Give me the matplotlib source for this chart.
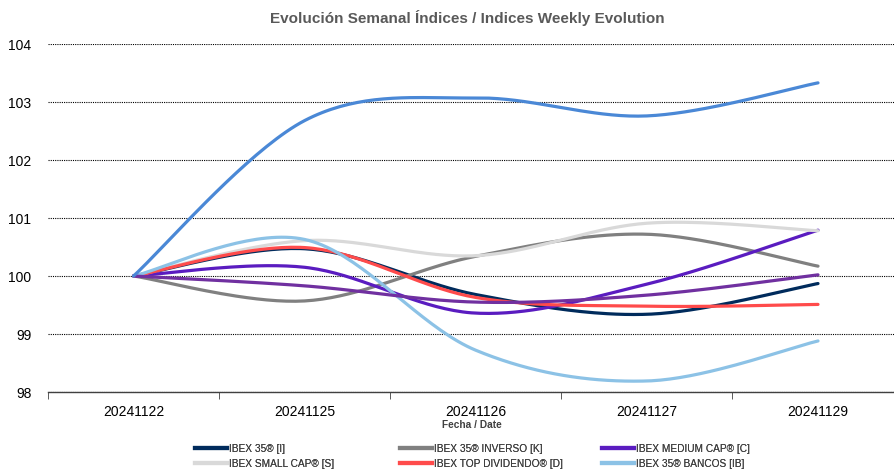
import numpy as np
import matplotlib
matplotlib.use("Agg")
import matplotlib.pyplot as plt
from matplotlib.lines import Line2D
from matplotlib import font_manager

plt.rcParams['font.family'] = ['Liberation Sans', 'DejaVu Sans']
_names = {f.name for f in font_manager.fontManager.ttflist}
if 'Liberation Sans Narrow' in _names:
    NARROW = ['Liberation Sans Narrow', 'DejaVu Sans']
    LEG_FS = 8
else:
    NARROW = ['Liberation Sans', 'DejaVu Sans']
    LEG_FS = 7.3

dates = ["20241122", "20241125", "20241126", "20241127", "20241129"]
ibex35 = [100, 100.47, 99.68, 99.34, 99.87]
inverso = [100, 99.57, 100.34, 100.72, 100.17]
medium_cap = [100, 100.15, 99.36, 99.86, 100.79]
small_cap = [100, 100.61, 100.35, 100.91, 100.78]
top_div = [100, 100.49, 99.63, 99.48, 99.51]
bancos = [100, 100.63, 98.72, 98.19, 98.88]
extra_blue = [100, 102.68, 103.07, 102.76, 103.33]
extra_purple = [100, 99.83, 99.55, 99.67, 100.02]

series = [
    ("IBEX 35® [I]", ibex35, "#002B5C", True),
    ("IBEX 35® INVERSO [K]", inverso, "#808080", True),
    ("IBEX MEDIUM CAP® [C]", medium_cap, "#5A1CC0", True),
    ("IBEX SMALL CAP® [S]", small_cap, "#D9D9D9", True),
    ("IBEX TOP DIVIDENDO® [D]", top_div, "#FF4B4B", True),
    ("IBEX 35® BANCOS [IB]", bancos, "#8CC2E6", True),
    ("_extra_purple", extra_purple, "#7030A0", False),
    ("_extra_blue", extra_blue, "#4A88D6", False),
]


def smooth(x, y, n=40):
    x = np.asarray(x, float)
    y = np.asarray(y, float)
    px = np.concatenate([[x[0]], x, [x[-1]]])
    py = np.concatenate([[y[0]], y, [y[-1]]])
    xs, ys = [], []
    t = np.linspace(0, 1, n)
    for i in range(1, len(px) - 2):
        p0x, p1x, p2x, p3x = px[i - 1], px[i], px[i + 1], px[i + 2]
        p0y, p1y, p2y, p3y = py[i - 1], py[i], py[i + 1], py[i + 2]
        c1x = p1x + (p2x - p0x) / 6
        c1y = p1y + (p2y - p0y) / 6
        c2x = p2x - (p3x - p1x) / 6
        c2y = p2y - (p3y - p1y) / 6
        bx = (1 - t) ** 3 * p1x + 3 * (1 - t) ** 2 * t * c1x + 3 * (1 - t) * t ** 2 * c2x + t ** 3 * p2x
        by = (1 - t) ** 3 * p1y + 3 * (1 - t) ** 2 * t * c1y + 3 * (1 - t) * t ** 2 * c2y + t ** 3 * p2y
        xs.append(bx)
        ys.append(by)
    return np.concatenate(xs), np.concatenate(ys)


fig = plt.figure(figsize=(8.95, 4.76), dpi=100)
ax = fig.add_axes([48 / 895, 1 - 392 / 476, 1 - 48 / 895, (392 - 44) / 476])

x = np.arange(len(dates))
for label, vals, color, _ in series:
    sx, sy = smooth(x, vals)
    ax.plot(sx, sy, color=color, lw=2.3, solid_capstyle='round', zorder=3)

ax.set_ylim(98, 104)
ax.set_yticks(range(98, 105))
ax.set_yticklabels([str(v) for v in range(98, 105)], fontsize=10, color='#000000')
ax.yaxis.grid(True, linestyle=(0, (1, 1)), color='#000000', lw=0.8)
ax.set_axisbelow(True)
ax.tick_params(axis='y', length=0, pad=12)

ax.set_xticks(x)
ax.set_xticklabels(dates, fontsize=10)
ax.tick_params(axis='x', length=0, pad=9)
ax.set_xticks(np.arange(-0.5, 5, 1), minor=True)
ax.tick_params(axis='x', which='minor', length=5, color='#404040', direction='out')
ax.set_xlim(-0.5, 4.45)

for s in ['top', 'right', 'left']:
    ax.spines[s].set_visible(False)
ax.spines['bottom'].set_color('#404040')
ax.spines['bottom'].set_linewidth(1.0)

ax.set_xlabel("Fecha / Date", fontsize=LEG_FS, fontweight='bold', color='#404040',
              labelpad=1, family=NARROW)

fig.text(467 / 895, 1 - 18 / 476, "Evolución Semanal Índices / Indices Weekly Evolution",
         ha='center', va='center', fontsize=11, fontweight='bold', color='#595959')

handles = [Line2D([0], [0], color=c, lw=3) for l, v, c, show in series if show]
labels = [l for l, v, c, show in series if show]
col_x = [195, 400, 602]
for ci in range(3):
    idx = [ci, ci + 3]
    leg = fig.legend([handles[i] for i in idx], [labels[i] for i in idx],
                     loc='upper left', bbox_to_anchor=(col_x[ci] / 895, 1 - 444 / 476),
                     frameon=False, handlelength=3.2, handletextpad=0.15,
                     labelspacing=0.45, borderpad=0, borderaxespad=0,
                     prop={'family': NARROW, 'size': LEG_FS})
    for t in leg.get_texts():
        t.set_color('#404040')
    fig.add_artist(leg)

fig.savefig("out.png", dpi=100)
